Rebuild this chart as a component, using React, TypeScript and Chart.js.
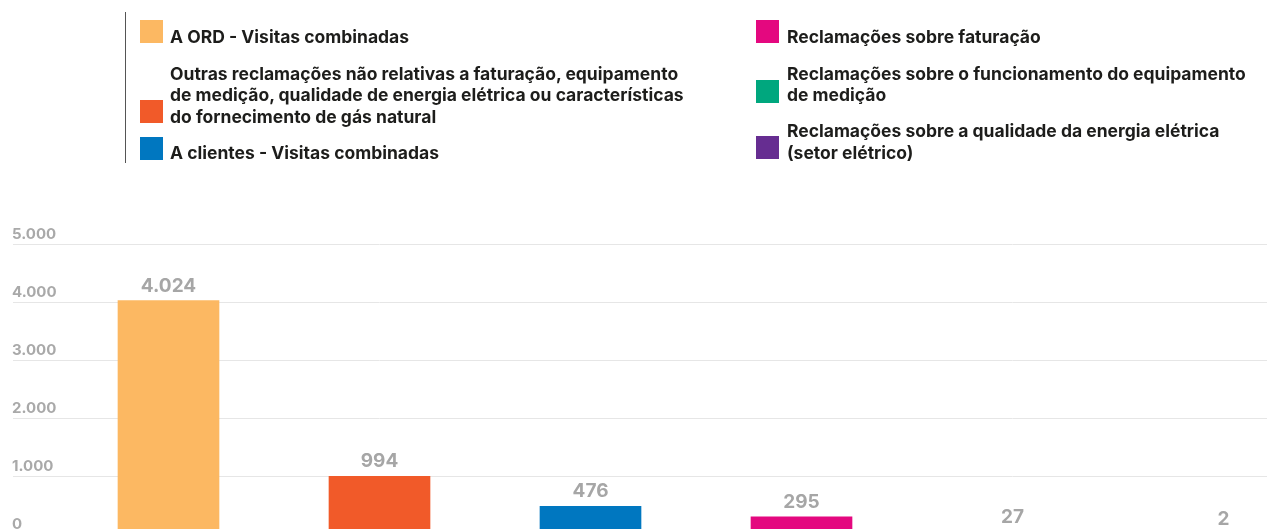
import React, { useEffect, useRef } from "react";
import { Chart, registerables } from "chart.js";

Chart.register(...registerables);

const categories = [
  "A ORD - Visitas combinadas",
  "Outras reclamações não relativas a faturação, equipamento de medição, qualidade de energia elétrica ou características do fornecimento de gás natural",
  "A clientes - Visitas combinadas",
  "Reclamações sobre faturação",
  "Reclamações sobre o funcionamento do equipamento de medição",
  "Reclamações sobre a qualidade da energia elétrica (setor elétrico)",
];
const values = [4024, 994, 476, 295, 27, 2];
const colors = ["#FCB862", "#F15A29", "#0077C0", "#E4087F", "#00A77E", "#662D91"];
const yTicks = [0, 1000, 2000, 3000, 4000, 5000];
const legendLines = [
  ["A ORD - Visitas combinadas"],
  [
    "Outras reclamações não relativas a faturação, equipamento",
    "de medição, qualidade de energia elétrica ou características",
    "do fornecimento de gás natural",
  ],
  ["A clientes - Visitas combinadas"],
  ["Reclamações sobre faturação"],
  ["Reclamações sobre o funcionamento do equipamento", "de medição"],
  ["Reclamações sobre a qualidade da energia elétrica", "(setor elétrico)"],
];

const fmt = (v: number) => String(v).replace(/\B(?=(\d{3})+(?!\d))/g, ".");

const FONT = "Inter, 'Noto Sans', sans-serif";

const legendLayout = [
  { swL: 140, swT: 20, txL: 170, txT: 25.5, lh: 22 },
  { swL: 140, swT: 99.5, txL: 170, txT: 62.5, lh: 21.5 },
  { swL: 140, swT: 137, txL: 170, txT: 142, lh: 22 },
  { swL: 756, swT: 20, txL: 787, txT: 25.5, lh: 22 },
  { swL: 756, swT: 80, txL: 787, txT: 62.5, lh: 21.5 },
  { swL: 756, swT: 136, txL: 787, txT: 120, lh: 21.5 },
];

const labelPlugin = {
  id: "labels",
  afterDraw(chart: any) {
    const ctx = chart.ctx;
    const y = chart.scales.y;
    ctx.save();
    ctx.fillStyle = "#A9A9A9";
    ctx.font = `700 15px ${FONT}`;
    ctx.textAlign = "left";
    ctx.textBaseline = "alphabetic";
    yTicks.forEach((v) => {
      ctx.fillText(fmt(v), 12, y.getPixelForValue(v) - 5);
    });
    const meta = chart.getDatasetMeta(0);
    ctx.font = `700 19px ${FONT}`;
    ctx.textAlign = "center";
    ctx.fillStyle = "#A6A6A6";
    meta.data.forEach((bar: any, i: number) => {
      ctx.fillText(fmt(values[i]), bar.x, bar.y - 9);
    });
    ctx.restore();
  },
};

export default function App() {
  const ref = useRef<HTMLCanvasElement>(null);
  useEffect(() => {
    if (!ref.current) return;
    const chart = new Chart(ref.current, {
      type: "bar",
      data: {
        labels: categories,
        datasets: [
          {
            data: values,
            backgroundColor: colors,
            borderWidth: 0,
            barThickness: 101,
          },
        ],
      },
      options: {
        responsive: false,
        animation: false,
        layout: { padding: { left: 13, top: 244, right: 0, bottom: 0 } },
        plugins: { legend: { display: false }, tooltip: { enabled: false } },
        scales: {
          x: { display: false, offset: true },
          y: {
            min: 0,
            max: 5000,
            afterBuildTicks: (s: any) => {
              s.ticks = yTicks.map((v) => ({ value: v }));
            },
            afterFit: (s: any) => {
              s.width = 50;
            },
            border: { display: false },
            grid: { color: "#E6E6E6", lineWidth: 1, tickLength: 50, drawTicks: true },
            ticks: { display: false },
          },
        },
      },
      plugins: [labelPlugin],
    } as any);
    return () => chart.destroy();
  }, []);

  return (
    <div
      style={{
        position: "absolute",
        left: 0,
        top: 0,
        width: 1267,
        height: 529,
        overflow: "hidden",
        background: "#fff",
        fontFamily: FONT,
      }}
    >
      <canvas ref={ref} width={1329} height={534} style={{ position: "absolute", left: 0, top: 0 }} />
      <div style={{ position: "absolute", left: 125, top: 12, width: 1, height: 151, background: "#555" }} />
      {legendLines.map((lines, i) => {
        const L = legendLayout[i];
        return (
          <React.Fragment key={i}>
            <div
              style={{
                position: "absolute",
                left: L.swL,
                top: L.swT,
                width: 23,
                height: 23,
                background: colors[i],
              }}
            />
            <div
              style={{
                position: "absolute",
                left: L.txL,
                top: L.txT,
                fontSize: 17.5,
                fontWeight: 700,
                lineHeight: `${L.lh}px`,
                color: "#1D1D1B",
                whiteSpace: "nowrap",
              }}
            >
              {lines.map((t, j) => (
                <div key={j}>{t}</div>
              ))}
            </div>
          </React.Fragment>
        );
      })}
    </div>
  );
}
